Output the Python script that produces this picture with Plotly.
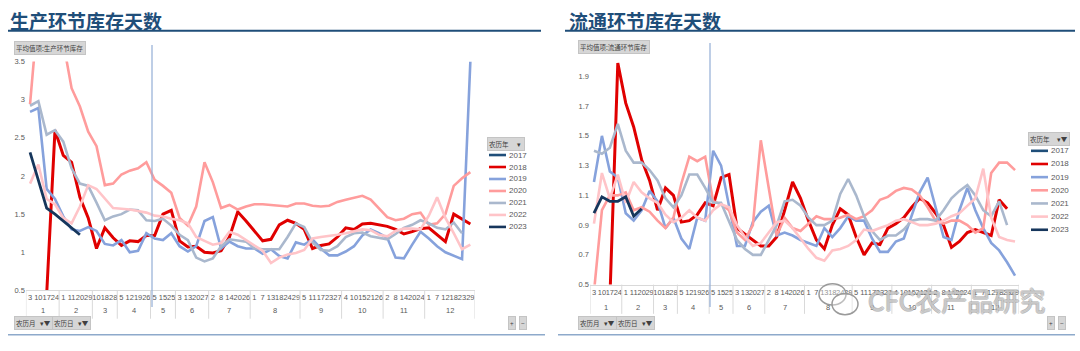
import plotly.graph_objects as go

W, H = 1080, 351

# ---------------- categories (lunar month / lunar day) ----------------
months = [1, 1, 1, 1, 2, 2, 2, 2, 3, 3, 3, 4, 4, 4, 4, 5, 5, 5, 6, 6, 6, 6,
          7, 7, 7, 7, 7, 8, 8, 8, 8, 8, 8, 9, 9, 9, 9, 9, 10, 10, 10, 10, 10,
          11, 11, 11, 11, 11, 12, 12, 12, 12, 12, 12]
days = [3, 10, 17, 24, 1, 11, 20, 29, 10, 18, 28, 5, 12, 19, 26, 5, 15, 25,
        3, 13, 20, 27, 2, 8, 14, 20, 26, 1, 7, 13, 18, 24, 29, 5, 11, 17, 23, 27,
        4, 10, 15, 21, 26, 2, 8, 14, 20, 24, 1, 7, 12, 18, 23, 29]
years = ["2017", "2018", "2019", "2020", "2021", "2022", "2023"]

# ---------------- 生产环节库存天数 ----------------
prod_2017 = []
prod_2018 = [None, None, 0.45, 2.6, 2.27, 2.18, 1.72, 1.45, 1.05, 1.32,
             1.19, 1.09, 1.15, 1.14, 1.22, 1.22, 1.5, 1.55, 1.15, 1.07,
             1.08, 1.0, 0.99, 1.02, 1.2, 1.53, 1.41, 1.28, 1.15, 1.17,
             1.36, 1.42, 1.38, 1.3, 1.05, 1.09, 1.11, 1.2, 1.32, 1.3,
             1.37, 1.38, 1.36, 1.34, 1.3, 1.24, 1.27, 1.31, 1.32, 1.23,
             1.14, 1.5, 1.43, 1.37]
prod_2019 = [2.84, 2.89, 1.83, 1.7, 1.47, 1.3, 1.28, 1.33, 1.28, 1.11,
             1.09, 1.16, 1.0, 1.02, 1.25, 1.18, 1.16, 1.25, 1.08, 1.01,
             1.08, 1.41, 1.46, 1.05, 1.14, 1.08, 1.05, 1.05, 0.98, 1.04,
             0.95, 0.92, 1.13, 1.1, 1.17, 1.05, 0.96, 0.96, 1.01, 1.08,
             1.22, 1.3, 1.25, 1.19, 0.93, 0.92, 1.1, 1.27, 1.18, 1.08,
             1.0, 0.96, 0.91, 3.5]
prod_2020 = [2.94, 4.2, 4.6, 4.3, 3.75, 3.15, 2.91, 2.58, 2.39, 1.88,
             1.9, 2.02, 2.07, 2.1, 2.18, 1.95, 1.87, 1.78, 1.45, 1.35,
             1.6, 2.18, 1.92, 1.58, 1.62, 1.56, 1.6, 1.63, 1.63, 1.62,
             1.61, 1.6, 1.64, 1.64, 1.61, 1.6, 1.61, 1.66, 1.69, 1.72,
             1.74, 1.69, 1.57, 1.46, 1.42, 1.44, 1.5, 1.52, 1.36, 1.38,
             1.5, 1.87, 1.97, 2.05]
prod_2021 = [2.92, 2.98, 2.54, 2.6, 2.45, 2.1, 1.9, 1.87, 1.65, 1.42,
             1.47, 1.5, 1.56, 1.55, 1.42, 1.41, 1.44, 1.35, 1.23, 1.16,
             0.93, 0.88, 0.92, 1.08, 1.17, 1.15, 1.14, 1.05, 1.04, 1.04,
             1.04, 1.2, 1.38, 1.33, 1.13, 1.03, 1.02, 1.08, 1.2, 1.25,
             1.26, 1.21, 1.19, 1.17, 1.24, 1.32, 1.36, 1.42, 1.38, 1.32,
             1.3, 1.39, 1.25]
prod_2022 = [1.9, 2.15, 1.7, 1.63, 1.45, 1.38, 1.6, 1.88, 1.83, 1.7,
             1.58, 1.57, 1.56, 1.54, 1.52, 1.48, 1.47, 1.44, 1.42, 1.38,
             1.2, 1.15, 1.1, 1.12, 1.27, 1.23, 1.16, 1.09, 1.02, 0.86,
             0.93, 0.97, 0.99, 1.03, 1.18, 1.2, 1.21, 1.23, 1.25, 1.27,
             1.3, 1.29, 1.23, 1.21, 1.28, 1.31, 1.31, 1.3, 1.48, 1.72,
             1.45, 1.25, 1.04, 1.1]
prod_2023 = [2.31, 1.95, 1.58, 1.5, 1.41, 1.31, 1.23]

# ---------------- 流通环节库存天数 ----------------
circ_2017 = []
circ_2018 = [None, None, 0.4, 1.99, 1.72, 1.56, 1.34, 1.2, 1.0, 1.15,
             1.1, 0.92, 0.93, 0.97, 1.05, 1.03, 1.22, 1.24, 0.88, 0.84,
             0.8, 0.76, 0.76, 0.82, 1.0, 1.19, 1.08, 0.93, 0.8, 0.74,
             0.9, 1.01, 0.97, 0.82, 0.7, 0.78, 0.77, 0.88, 0.91, 0.95,
             1.02, 1.08, 1.05, 0.98, 0.9, 0.75, 0.79, 0.85, 0.87, 0.85,
             0.83, 1.07, 1.01]
circ_2019 = [1.19, 1.5, 1.26, 1.22, 0.98, 0.93, 1.0, 1.13, 1.06, 0.88,
             0.95, 0.81, 0.74, 0.95, 0.93, 1.4, 1.3, 1.02, 0.76, 0.76,
             0.92, 0.99, 1.03, 0.83, 0.85, 0.83, 0.8, 0.78, 0.76, 0.88,
             0.82, 0.88, 0.96, 0.93, 0.93, 0.81, 0.72, 0.72, 0.79, 0.81,
             0.96, 1.12, 1.22, 1.01, 0.82, 0.8, 1.0, 1.15, 1.0, 0.88,
             0.78, 0.73, 0.65, 0.56]
circ_2020 = [0.45, 1.0, 1.1, 1.1, 1.12, 1.0, 1.02, 0.99, 0.93, 0.88,
             0.95, 1.18, 1.36, 1.33, 1.36, 1.06, 1.04, 1.0, 0.85, 0.8,
             0.9, 1.47, 1.15, 0.83, 0.95, 0.88, 0.86, 0.91, 0.96, 0.94,
             0.94, 0.95, 0.97, 0.94, 0.96, 1.0, 1.07, 1.09, 1.13, 1.15,
             1.14, 1.1, 1.02, 0.93, 0.91, 0.93, 0.93, 0.9, 0.85, 0.88,
             1.25, 1.32, 1.32, 1.27]
circ_2021 = [1.4, 1.38, 1.42, 1.58, 1.4, 1.32, 1.32, 1.27, 1.2, 1.08,
             1.02, 1.1, 1.24, 1.24, 1.15, 1.05, 1.05, 0.92, 0.8, 0.74,
             0.7, 0.7, 0.8, 0.9, 1.06, 1.07, 1.03, 0.95, 0.9, 0.9,
             0.93, 1.11, 1.21, 1.1, 0.96, 0.86, 0.8, 0.83, 0.83, 0.87,
             0.93, 0.94, 0.94, 0.93, 1.0, 1.08, 1.13, 1.17, 1.1, 1.0,
             0.96, 1.06, 0.9]
circ_2022 = [0.91, 1.25, 1.08, 1.24, 1.05, 1.19, 1.12, 1.08, 1.05, 0.97,
             0.92, 0.95, 1.0, 0.95, 0.93, 1.0, 1.04, 1.02, 0.9, 0.82,
             0.76, 0.78, 0.85, 0.92, 0.93, 0.88, 0.81, 0.74, 0.68, 0.66,
             0.73, 0.74, 0.76, 0.8, 0.87, 0.86, 0.88, 0.9, 0.93, 0.94,
             0.92, 0.9, 0.9, 0.91, 0.93, 0.96, 0.98, 1.03, 1.08, 1.28,
             0.95, 0.82, 0.8, 0.79]
circ_2023 = [0.98, 1.09, 1.06, 1.06, 1.09, 0.96, 1.01]

# ---------------- styles ----------------
colors = {"2017": "#1F4E79", "2018": "#E00000", "2019": "#86A2DC",
          "2020": "#FF9C9C", "2021": "#AAB8CD", "2022": "#FFC4C8",
          "2023": "#16365C"}
widths = {"2017": 2.6, "2018": 3.0, "2019": 2.6, "2020": 2.6,
          "2021": 2.6, "2022": 2.6, "2023": 2.8}

# unique category keys (month-day); displayed ticks are the day only
cats = [f"{m}月{d}日" for m, d in zip(months, days)]
day_lbl = [str(d) for d in days]

prod_series = [prod_2017, prod_2018, prod_2019, prod_2020, prod_2021, prod_2022, prod_2023]
circ_series = [circ_2017, circ_2018, circ_2019, circ_2020, circ_2021, circ_2022, circ_2023]


def px(x):
    return x / W


def py(y):
    return 1 - y / H


fig = go.Figure()

for yr, vals in zip(years, prod_series):
    n = len(vals)
    if n == 0:
        continue
    fig.add_trace(go.Scatter(x=cats[:n], y=vals, mode="lines",
                             name=yr, showlegend=False, xaxis="x", yaxis="y",
                             line=dict(color=colors[yr], width=widths[yr])))
for yr, vals in zip(years, circ_series):
    n = len(vals)
    if n == 0:
        continue
    fig.add_trace(go.Scatter(x=cats[:n], y=vals, mode="lines",
                             name=yr, showlegend=False, xaxis="x2", yaxis="y2",
                             line=dict(color=colors[yr], width=widths[yr])))

tickfont = dict(family="Liberation Sans Narrow, Liberation Sans, Arial, sans-serif",
                size=7.5, color="#595959")
xcommon = dict(type="category", categoryorder="array", categoryarray=cats,
               range=[-0.5, len(cats) - 0.5],
               showline=True, linecolor="#D9D9D9", linewidth=1,
               showgrid=False, zeroline=False, tickfont=tickfont, tickangle=0,
               tickmode="array", tickvals=cats, ticktext=day_lbl, ticks="",
               fixedrange=True)
ycommon = dict(showgrid=False, zeroline=False, showline=False, ticks="",
               tickfont=tickfont, fixedrange=True)

fig.update_layout(
    width=W, height=H, margin=dict(l=0, r=0, t=0, b=0),
    paper_bgcolor="white", plot_bgcolor="white", showlegend=False,
    font=dict(family="Noto Sans CJK SC, sans-serif"),
    xaxis=dict(domain=[px(25.9), px(474.5)], anchor="y", **xcommon),
    yaxis=dict(domain=[py(294), py(59)], anchor="x", range=[0.5, 3.5],
               tick0=0.5, dtick=0.5, **ycommon),
    xaxis2=dict(domain=[px(590), px(1019)], anchor="y2", **xcommon),
    yaxis2=dict(domain=[py(288), py(59)], anchor="x2", range=[0.5, 2.0],
                tick0=0.5, dtick=0.2, **ycommon),
)

shapes = []
annotations = []

# month group labels and dividers below each category axis
groups = []
start = 0
for i in range(1, len(months) + 1):
    if i == len(months) or months[i] != months[start]:
        groups.append((months[start], start, i - 1))
        start = i

for xref, ytop, ybot, ylab in (("x", 294, 323, 315), ("x2", 288, 318, 311)):
    bounds = [g[1] - 0.5 for g in groups] + [groups[-1][2] + 0.5]
    for b in bounds:
        shapes.append(dict(type="line", xref=xref, yref="paper", x0=b, x1=b,
                           y0=py(ytop), y1=py(ybot), line=dict(color="#D9D9D9", width=1)))
    for m, s, e in groups:
        annotations.append(dict(text=str(m), xref=xref, yref="paper", x=(s + e) / 2,
                                y=py(ylab), xanchor="center", yanchor="middle",
                                showarrow=False, font=tickfont))

# title rules and bottom rules
shapes.append(dict(type="line", xref="paper", yref="paper", x0=px(8), x1=px(541),
                   y0=py(27.5), y1=py(27.5), line=dict(color="#1F4E79", width=2)))
shapes.append(dict(type="line", xref="paper", yref="paper", x0=px(565), x1=px(1075),
                   y0=py(27.5), y1=py(27.5), line=dict(color="#1F4E79", width=2)))
shapes.append(dict(type="line", xref="paper", yref="paper", x0=px(8), x1=px(545),
                   y0=py(339.5), y1=py(339.5), line=dict(color="#8EAACB", width=1.5)))
shapes.append(dict(type="line", xref="paper", yref="paper", x0=px(558), x1=px(1075),
                   y0=py(339.5), y1=py(339.5), line=dict(color="#8EAACB", width=1.5)))
# thin vertical cursor lines
shapes.append(dict(type="line", xref="paper", yref="paper", x0=px(152), x1=px(152),
                   y0=py(42), y1=py(311), line=dict(color="#93ADD6", width=1.2)))
shapes.append(dict(type="line", xref="paper", yref="paper", x0=px(710), x1=px(710),
                   y0=py(40), y1=py(311), line=dict(color="#93ADD6", width=1.2)))

# titles
annotations.append(dict(text="<b>生产环节库存天数</b>", xref="paper", yref="paper",
                        x=px(8), y=py(17), xanchor="left", yanchor="middle", showarrow=False,
                        font=dict(size=19, color="#1F4E79", family="Noto Sans CJK SC")))
annotations.append(dict(text="<b>流通环节库存天数</b>", xref="paper", yref="paper",
                        x=px(567), y=py(17), xanchor="left", yanchor="middle", showarrow=False,
                        font=dict(size=19, color="#1F4E79", family="Noto Sans CJK SC")))

btn_font = dict(size=6.5, color="#404040", family="Noto Sans CJK SC")


def button(text, x, y):
    annotations.append(dict(text=text, xref="paper", yref="paper", x=px(x), y=py(y),
                            xanchor="left", yanchor="middle", showarrow=False,
                            bgcolor="#D6D6D6", bordercolor="#C4C4C4", borderwidth=1,
                            borderpad=1, font=btn_font))


button("平均值项:生产环节库存 ", 14, 45)
button("平均值项:流通环节库存 ", 578, 44)
button("农历月   ▾▼", 14, 327)
button("农历日   ▾▼", 52, 327)
button("农历月   ▾▼", 578, 327)
button("农历日   ▾▼", 616, 327)
button("+", 508, 327)
button("−", 519, 327)
button("+", 1047, 327)
button("−", 1058, 327)

# legends (one per panel)
button("农历年      ▾ ", 487, 144)
button("农历年     ▾▼", 1028, 138.5)
legend_font = dict(size=8, color="#595959", family="Liberation Sans, Arial, sans-serif")
for k, yr in enumerate(years):
    yy = 155 + 12.3 * k
    shapes.append(dict(type="line", xref="paper", yref="paper", x0=px(489), x1=px(506),
                       y0=py(yy), y1=py(yy), line=dict(color=colors[yr], width=2.6)))
    annotations.append(dict(text=yr, xref="paper", yref="paper", x=px(506.5), y=py(yy),
                            xanchor="left", yanchor="middle", showarrow=False,
                            font=legend_font))
    yy2 = 150.7 + 13.5 * k
    shapes.append(dict(type="line", xref="paper", yref="paper", x0=px(1031), x1=px(1048),
                       y0=py(yy2), y1=py(yy2), line=dict(color=colors[yr], width=2.6)))
    annotations.append(dict(text=yr, xref="paper", yref="paper", x=px(1048.5), y=py(yy2),
                            xanchor="left", yanchor="middle", showarrow=False,
                            font=legend_font))

# watermark
shapes.append(dict(type="circle", xref="paper", yref="paper", x0=px(819), x1=px(846),
                   y0=py(309), y1=py(287), line=dict(color="#9A9A9A", width=1.5),
                   fillcolor="rgba(255,255,255,0.35)"))
shapes.append(dict(type="circle", xref="paper", yref="paper", x0=px(832), x1=px(858),
                   y0=py(319), y1=py(297), line=dict(color="#9A9A9A", width=1.5),
                   fillcolor="rgba(255,255,255,0.35)"))
annotations.append(dict(text="CFC农产品研究", xref="paper", yref="paper", x=px(866), y=py(303),
                        xanchor="left", yanchor="middle", showarrow=False,
                        font=dict(size=26, color="rgba(255,255,255,0.45)",
                                  family="Noto Sans CJK SC",
                                  shadow="1px 0 #8C8C8C, -1px 0 #8C8C8C, 0 1px #8C8C8C, 0 -1px #8C8C8C")))

fig.update_layout(shapes=shapes, annotations=annotations)

fig.write_html("out.html")
